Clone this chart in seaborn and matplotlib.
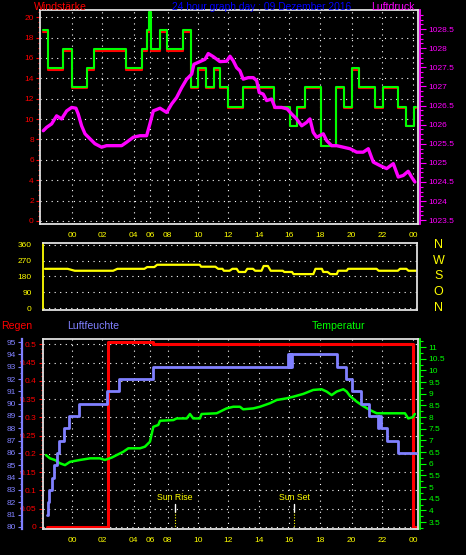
import matplotlib
matplotlib.use("Agg")
import matplotlib.pyplot as plt
import matplotlib.ticker as mticker
import matplotlib.transforms as mtransforms
import seaborn as sns

# ---- data (x = hours, 0 = first "00" tick) ----
hour_labels = ["00", "02", "04", "06", "08", "10", "12", "14", "16", "18", "20", "22", "00"]

wind_t = [-2.04, -1.69, -0.63, 0.0, 1.06, 1.55, 3.80, 4.93, 5.28, 5.42, 5.60, 6.20, 6.69, 7.82,
          8.38, 8.87, 9.44, 10.0, 10.42, 11.0, 12.06, 14.23, 15.35, 15.82, 16.41, 17.51, 18.59,
          19.15, 19.70, 20.23, 21.34, 21.92, 22.98, 23.52, 24.08, 24.23]
gust_kmh = [18.7, 15.0, 16.9, 13.1, 15.0, 16.9, 15.0, 16.9, 18.7, 20.5, 16.9, 18.7, 16.9, 18.7,
            13.1, 15.0, 13.1, 15.0, 13.1, 11.2, 13.1, 11.2, 9.3, 11.2, 13.1, 7.4, 13.1,
            11.2, 15.0, 13.1, 11.2, 13.1, 11.2, 9.3, 11.2, 11.2]
wind_kmh = [18.5, 14.8, 16.7, 13.0, 14.8, 16.7, 14.8, 16.7, 18.5, 18.5, 16.7, 18.5, 16.7, 18.5,
            13.0, 14.8, 13.0, 14.8, 13.0, 11.1, 13.0, 11.1, 9.3, 11.1, 13.0, 7.4, 13.0,
            11.1, 14.8, 13.0, 11.1, 13.0, 11.1, 9.3, 11.1, 11.1]

press_t = [-2.02, -1.78, -1.43, -1.08, -0.73, -0.37, -0.02, 0.28, 0.44, 0.68, 0.92, 1.27, 1.62,
           2.09, 2.44, 2.91, 3.50, 3.85, 4.32, 4.79, 5.26, 5.49, 5.73, 6.20, 6.67, 7.02, 7.37,
           7.73, 8.08, 8.43, 8.59, 9.01, 9.37, 9.60, 9.95, 10.42, 10.89, 11.13, 11.36, 11.60,
           11.83, 12.06, 12.42, 12.77, 13.01, 13.19, 13.47, 13.71, 14.06, 14.30, 14.77, 15.16,
           15.47, 15.82, 16.18, 16.53, 16.76, 16.99, 17.23, 17.70, 17.94, 18.29, 18.64, 19.11,
           19.58, 20.05, 20.51, 20.87, 21.22, 21.69, 22.16, 22.63, 22.98, 23.33, 23.68, 23.92, 24.15]
press_hpa = [1025.84, 1025.93, 1026.02, 1026.23, 1026.15, 1026.36, 1026.45, 1026.43, 1026.28,
             1025.97, 1025.76, 1025.63, 1025.50, 1025.41, 1025.45, 1025.45, 1025.45, 1025.54,
             1025.67, 1025.71, 1025.71, 1026.02, 1026.36, 1026.43, 1026.32, 1026.54, 1026.71,
             1026.97, 1027.19, 1027.32, 1027.58, 1027.65, 1027.71, 1027.86, 1027.78, 1027.65,
             1027.66, 1027.79, 1027.67, 1027.49, 1027.41, 1027.19, 1027.23, 1027.23, 1027.15,
             1026.84, 1026.80, 1026.63, 1026.67, 1026.45, 1026.45, 1026.41, 1026.28, 1026.15,
             1025.97, 1026.06, 1026.15, 1025.80, 1025.67, 1025.76, 1025.58, 1025.45, 1025.45,
             1025.41, 1025.37, 1025.28, 1025.28, 1025.37, 1025.02, 1024.93, 1024.85, 1024.98,
             1024.63, 1024.67, 1024.78, 1024.63, 1024.50]

dir_t = [-1.9, -0.3, 0.2, 2.9, 3.2, 5.1, 5.3, 5.8, 6.0, 9.0, 9.1, 10.1, 10.3, 10.6, 10.7, 11.1,
         11.3, 11.6, 11.75, 12.2, 12.35, 12.75, 12.9, 13.35, 13.5, 13.8, 14.0, 14.85, 14.95, 15.5,
         15.6, 17.0, 17.15, 17.6, 17.7, 18.0, 18.2, 18.65, 18.75, 19.35, 19.45, 21.45, 21.6,
         22.95, 23.1, 23.55, 23.7, 24.3]
dir_deg = [223, 223, 212, 212, 223, 223, 233, 233, 246, 246, 235, 235, 223, 223, 212, 212,
           223, 223, 205, 205, 223, 223, 212, 212, 239, 239, 212, 212, 205, 205,
           193, 193, 223, 223, 205, 205, 193, 193, 212, 212, 223, 223, 212,
           212, 223, 223, 212, 212]
dir_letters = ["N", "W", "S", "O", "N"]

rain_t = [-1.78, 2.51, 5.73, 23.99, 24.23]
rain_mm = [0.0, 0.505, 0.50, 0.0, 0.0]

hum_t = [-1.78, -1.71, -1.60, -1.43, -1.27, -1.08, -0.89, -0.54, -0.21, 0.49, 2.44, 3.31, 5.73,
         15.23, 15.30, 15.37, 15.44, 15.50, 18.64, 19.30, 19.70, 20.33, 20.94, 21.57, 21.64,
         21.76, 22.16, 22.98, 24.23]
hum_pct = [81, 82, 83, 84, 85, 86, 87, 88, 89, 90, 91, 92, 93,
           94, 93, 94, 93, 94, 93, 92, 91, 90, 89, 88, 89,
           88, 87, 86, 86]

temp_t = [-1.83, -1.55, -1.20, -0.85, -0.49, -0.14, 0.56, 1.27, 1.97, 2.32, 2.79, 3.15, 3.61,
          3.97, 4.79, 5.14, 5.49, 5.73, 6.08, 6.20, 7.14, 7.37, 8.08, 8.31, 8.54, 9.01, 9.13,
          10.19, 10.89, 11.36, 11.83, 12.06, 12.77, 13.24, 13.94, 14.42, 15.12, 15.58, 16.29,
          16.99, 17.58, 17.94, 18.29, 18.64, 19.11, 19.35, 19.58, 20.05, 20.51, 20.99, 21.46,
          21.92, 22.63, 23.45, 23.68, 23.99, 24.15]
temp_c = [6.37, 6.23, 6.16, 6.02, 5.94, 6.08, 6.16, 6.23, 6.23, 6.16, 6.26, 6.37, 6.51,
          6.66, 6.66, 6.73, 6.94, 7.58, 7.66, 7.84, 7.87, 7.94, 7.94, 8.13, 7.94, 7.94, 8.13,
          8.16, 8.37, 8.44, 8.44, 8.33, 8.37, 8.44, 8.59, 8.73, 8.80, 8.87, 8.99,
          9.16, 9.19, 9.09, 8.94, 9.09, 9.19, 9.09, 8.90, 8.66, 8.47, 8.30, 8.16,
          8.16, 8.16, 8.16, 7.94, 7.99, 8.13]

sun_t = [7.27, 15.65]
sun_labels = ["Sun Rise", "Sun Set"]

# ---- layout / style ----
xtick_pos = [0.0, 2.15, 4.35, 5.5, 6.75, 8.9, 11.0, 13.15, 15.3, 17.5, 19.7, 21.85, 24.04]
W, H = 466, 555
YEL = "#ffff00"
FRAME = "#e0e0e0"
BLUE = "#8080ff"
GRID = dict(color="white", linestyle=(0, (1, 4)), linewidth=0.8)
TICK_FS = 6

sns.set_theme(style="dark", rc={"figure.facecolor": "black", "axes.facecolor": "black",
                                "savefig.facecolor": "black"})
plt.rcParams["font.family"] = ["Liberation Sans", "DejaVu Sans"]


def box(x0, y0, x1, y1):
    return [x0 / W, 1 - y1 / H, (x1 - x0) / W, (y1 - y0) / H]


def minor_x(pos):
    out = []
    d0 = pos[1] - pos[0]
    out += [pos[0] - d0 / 3, pos[0] - 2 * d0 / 3]
    for a, b in zip(pos[:-1], pos[1:]):
        out += [a + (b - a) / 3, a + 2 * (b - a) / 3]
    return out


def frame(ax):
    for s in ax.spines.values():
        s.set_color(FRAME)
        s.set_linewidth(1.3)
    ax.set_facecolor("none")


def hide_spines(ax, keep=None):
    for k, s in ax.spines.items():
        s.set_visible(k == keep)


def xaxis_hours(ax):
    ax.set_xticks(xtick_pos)
    ax.set_xticklabels(hour_labels)
    ax.set_xticks(minor_x(xtick_pos), minor=True)
    ax.tick_params(axis="x", which="both", colors="white", labelcolor=YEL, length=3,
                   width=0.8, labelsize=TICK_FS, pad=2.5)


def frange(a, b, step):
    n = int(round((b - a) / step))
    return [a + i * step for i in range(n + 1)]


fmt = mticker.FuncFormatter(lambda v, p: f"{v:g}")

fig = plt.figure(figsize=(W / 100, H / 100), dpi=100)

# ---- top panel: wind + pressure ----
ax_w = fig.add_axes(box(40, 10, 418, 224))
frame(ax_w)
sns.lineplot(x=wind_t, y=wind_kmh, ax=ax_w, color="#ff0000", lw=1.5, drawstyle="steps-post",
             estimator=None, sort=False)
sns.lineplot(x=wind_t, y=gust_kmh, ax=ax_w, color="#00ff00", lw=1.5, drawstyle="steps-post",
             estimator=None, sort=False)
ax_w.set_xlim(-2.25, 24.37)
ax_w.set_ylim(-0.3, 20.7)
ax_w.set_yticks(range(0, 21, 2))
ax_w.yaxis.set_minor_locator(mticker.MultipleLocator(0.5))
ax_w.tick_params(axis="y", which="both", colors="#ff0000", labelsize=TICK_FS, pad=1.5, width=0.8)
ax_w.tick_params(axis="y", which="major", length=3)
ax_w.tick_params(axis="y", which="minor", length=1.5)
xaxis_hours(ax_w)
ax_w.grid(True, which="major", **GRID)
ax_w.set_xlabel("")
ax_w.set_ylabel("")

ax_p = ax_w.twinx()
hide_spines(ax_p, "right")
ax_p.spines["right"].set_position(("outward", 1.5))
ax_p.spines["right"].set_color("#ff00ff")
sns.lineplot(x=press_t, y=press_hpa, ax=ax_p, color="#ff00ff", lw=2.4, estimator=None, sort=False)
ax_p.set_ylim(1023.4, 1029.0)
ax_p.set_yticks(frange(1023.5, 1028.5, 0.5))
ax_p.set_yticks(frange(1023.5, 1028.875, 0.125), minor=True)
ax_p.yaxis.set_major_formatter(fmt)
ax_p.tick_params(axis="y", which="both", colors="#ff00ff", labelsize=TICK_FS, pad=2, width=0.8)
ax_p.tick_params(axis="y", which="major", length=4)
ax_p.tick_params(axis="y", which="minor", length=2)
ax_p.set_ylabel("")
ax_p.grid(False)

# ---- middle panel: wind direction ----
ax_d = fig.add_axes(box(42.7, 243.3, 417, 310))
frame(ax_d)
ax_d.spines["left"].set_color(YEL)
sns.lineplot(x=dir_t, y=dir_deg, ax=ax_d, color=YEL, lw=1.6, estimator=None, sort=False)
ax_d.set_xlim(-2.06, 24.30)
ax_d.set_ylim(-11, 368)
ax_d.set_xticks([])
ax_d.set_yticks([0, 90, 180, 270, 360])
ax_d.yaxis.set_minor_locator(mticker.MultipleLocator(22.5))
ax_d.tick_params(axis="y", which="both", colors=YEL, labelsize=TICK_FS, pad=5, width=0.8)
ax_d.tick_params(axis="y", which="major", length=3)
ax_d.tick_params(axis="y", which="minor", length=1.5)
ax_d.grid(True, axis="y", which="major", **GRID)
ax_d.grid(False, axis="x")
ax_d.set_ylabel("")
tr_d = mtransforms.blended_transform_factory(ax_d.transAxes, ax_d.transData)
for v, letter in zip([360, 270, 180, 90, 0], dir_letters):
    ax_d.text(1.057, v, letter, transform=tr_d, color=YEL, fontsize=9, ha="center", va="center")

# ---- bottom panel: rain, humidity, temperature ----
ax_r = fig.add_axes(box(42.7, 339.3, 418, 529.3))
frame(ax_r)
ax_t = ax_r.twinx()
ax_h = ax_r.twinx()

sns.lineplot(x=rain_t, y=rain_mm, ax=ax_r, color="#ff0000", lw=2.2, drawstyle="steps-post",
             estimator=None, sort=False)
ax_r.set_xlim(-2.06, 24.37)
ax_r.set_ylim(-0.0063, 0.5137)
ax_r.set_yticks(frange(0.0, 0.5, 0.05))
ax_r.set_yticks(frange(0.0, 0.5, 0.0125), minor=True)
ax_r.yaxis.set_major_formatter(mticker.FuncFormatter(lambda v, p: f"{round(v, 3):g}"))
ax_r.tick_params(axis="y", which="both", colors="#ff0000", labelsize=TICK_FS, pad=1.5, width=0.8)
ax_r.tick_params(axis="y", which="major", length=3)
ax_r.tick_params(axis="y", which="minor", length=1.5)
xaxis_hours(ax_r)
ax_r.grid(True, which="major", **GRID)
ax_r.set_ylabel("")

hide_spines(ax_t, "right")
ax_t.spines["right"].set_position(("outward", 1.5))
ax_t.spines["right"].set_color("#00ff00")
sns.lineplot(x=temp_t, y=temp_c, ax=ax_t, color="#00ff00", lw=1.8, estimator=None, sort=False)
ax_t.set_ylim(3.19, 11.33)
ax_t.set_yticks(frange(3.5, 11.0, 0.5))
ax_t.set_yticks(frange(3.25, 11.25, 0.25), minor=True)
ax_t.yaxis.set_major_formatter(fmt)
ax_t.tick_params(axis="y", which="both", colors="#00ff00", labelsize=TICK_FS, pad=2, width=0.8)
ax_t.tick_params(axis="y", which="major", length=4)
ax_t.tick_params(axis="y", which="minor", length=2)
ax_t.set_ylabel("")
ax_t.grid(False)

hide_spines(ax_h, "left")
ax_h.spines["left"].set_position(("outward", 15))
ax_h.spines["left"].set_color(BLUE)
ax_h.spines["left"].set_linewidth(1.6)
ax_h.yaxis.set_label_position("left")
ax_h.yaxis.set_ticks_position("left")
sns.lineplot(x=hum_t, y=hum_pct, ax=ax_h, color=BLUE, lw=2.0, drawstyle="steps-post",
             estimator=None, sort=False)
ax_h.set_ylim(79.81, 95.22)
ax_h.set_yticks(range(80, 96))
ax_h.yaxis.set_minor_locator(mticker.MultipleLocator(0.5))
ax_h.tick_params(axis="y", which="both", colors=BLUE, labelsize=TICK_FS, pad=1, width=0.8)
ax_h.tick_params(axis="y", which="major", length=3)
ax_h.tick_params(axis="y", which="minor", length=1.5)
ax_h.set_ylabel("")
ax_h.grid(False)

tr_s = mtransforms.blended_transform_factory(ax_r.transData, ax_r.transAxes)
for t, lab in zip(sun_t, sun_labels):
    ax_r.plot([t, t], [0.093, 0.133], transform=tr_s, color="white", lw=1)
    ax_r.plot([t, t], [0.0, 0.093], transform=tr_s, color=YEL, lw=0.8, ls=(0, (1, 1.5)))
    ax_r.text(t, 0.168, lab, transform=tr_s, color=YEL, fontsize=6.3, ha="center", va="center")

# ---- header texts ----
fig.text(34 / W, 1 - 7 / H, "Windstärke", color="#ff0000", fontsize=7.6, va="center", ha="left")
fig.text(172 / W, 1 - 7 / H, "24 hour graph day : 09 Dezember 2016", color="#0000ff",
         fontsize=7.4, va="center", ha="left")
fig.text(415 / W, 1 - 7 / H, "Luftdruck", color="#ff00ff", fontsize=7.6, va="center", ha="right")
fig.text(1 / W, 1 - 326 / H, "Regen", color="#ff0000", fontsize=7.6, va="center", ha="left")
fig.text(67 / W, 1 - 326 / H, "Luftfeuchte", color=BLUE, fontsize=7.6, va="center", ha="left")
fig.text(312 / W, 1 - 326 / H, "Temperatur", color="#00ff00", fontsize=7.6, va="center", ha="left")

fig.savefig("out.png", dpi=100, facecolor="black")
